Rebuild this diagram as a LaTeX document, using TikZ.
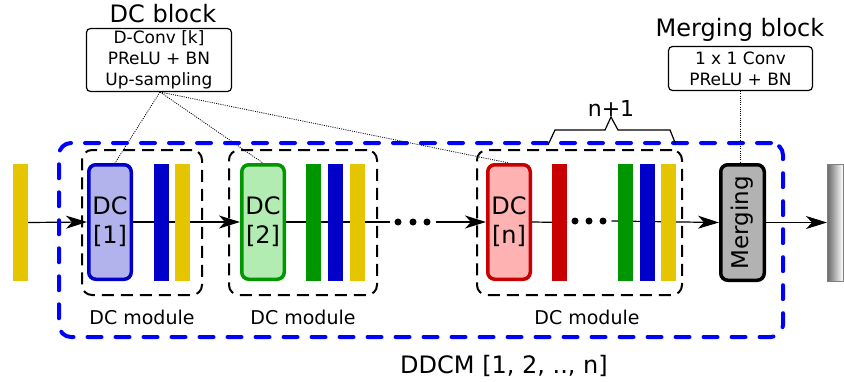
\documentclass[tikz,border=0pt]{standalone}
\usepackage{fontspec}
\setmainfont{DejaVu Sans}
\usetikzlibrary{arrows.meta,calc}
\definecolor{cyel}{RGB}{229,196,0}
\definecolor{cblue}{RGB}{0,0,200}
\definecolor{cgreen}{RGB}{0,150,0}
\definecolor{cred}{RGB}{200,0,0}
\definecolor{lblue}{RGB}{178,178,236}
\definecolor{lgreen}{RGB}{178,236,178}
\definecolor{lred}{RGB}{255,178,178}
\definecolor{lgray}{RGB}{178,178,178}
\definecolor{dblue}{RGB}{0,0,255}
\pgfdeclarelayer{background}
\pgfsetlayers{background,main}
\begin{document}
\begin{tikzpicture}[x=1pt,y=-1pt,
  bar/.style={minimum width=15pt, minimum height=117pt, inner sep=0pt, outer sep=0pt},
  dcbox/.style={draw, rounded corners=7pt, line width=3.5pt, minimum width=42.5pt, minimum height=114.5pt, inner sep=0pt, align=center, font=\fontsize{24}{29}\selectfont},
  module/.style={draw, dash pattern=on 12pt off 7pt, line width=2pt, rounded corners=10pt, inner sep=0pt},
  outerbox/.style={draw=dblue, dash pattern=on 14pt off 14pt, line cap=round, line width=4pt, rounded corners=12pt, inner sep=0pt},
  blockbox/.style={draw, rounded corners=4pt, line width=1.2pt, align=center, font=\fontsize{17}{21}\selectfont, inner sep=0pt},
  title/.style={anchor=base, font=\fontsize{24}{29}\selectfont, inner sep=0pt},
  modlabel/.style={font=\fontsize{19}{23}\selectfont, inner sep=0pt},
  conn/.style={line width=1.2pt},
  arr/.style={conn, -{Stealth[length=21pt,width=13pt,inset=6pt]}},
  dotline/.style={line width=0.8pt, dash pattern=on 1pt off 1.2pt},
  bigdot/.style={circle, fill, minimum size=7pt, inner sep=0pt, outer sep=5pt}
]
\useasboundingbox (0,0) rectangle (844,381);

% outer DDCM box and module boxes
\node[outerbox, minimum width=724pt, minimum height=194pt] (ddcm) at (421,240) {};
\node[module, minimum width=120pt, minimum height=145pt] (mod1) at (142,222.5) {};
\node[module, minimum width=148pt, minimum height=145pt] (mod2) at (303,222.5) {};
\node[module, minimum width=205pt, minimum height=145pt] (modn) at (579.5,222.5) {};

% input bar
\node[bar, fill=cyel] (inbar) at (20.5,222.5) {};

% module 1
\node[dcbox, draw=cblue, fill=lblue] (dc1) at (110,222) {DC\\{[1]}};
\node[bar, fill=cblue] (b11) at (161.5,222.5) {};
\node[bar, fill=cyel] (b12) at (182.5,222.5) {};

% module 2
\node[dcbox, draw=cgreen, fill=lgreen] (dc2) at (263,222) {DC\\{[2]}};
\node[bar, fill=cgreen] (b21) at (313.5,222.5) {};
\node[bar, fill=cblue] (b22) at (335.5,222.5) {};
\node[bar, fill=cyel] (b23) at (357.5,222.5) {};

% dots between modules
\node[bigdot] (d1) at (398,222) {};
\node[bigdot] (d2) at (413,222) {};
\node[bigdot] (d3) at (427,222) {};

% module n
\node[dcbox, draw=cred, fill=lred] (dcn) at (509,222) {DC\\{[n]}};
\node[bar, fill=cred] (bn1) at (559.5,222.5) {};
\node[bigdot] (e1) at (575,221) {};
\node[bigdot] (e2) at (589,221) {};
\node[bigdot] (e3) at (603,221) {};
\node[bar, fill=cgreen] (bn2) at (625.5,222.5) {};
\node[bar, fill=cblue] (bn3) at (647.5,222.5) {};
\node[bar, fill=cyel] (bn4) at (668.5,222.5) {};

% merging
\node[draw, fill=lgray, line width=3.5pt, rounded corners=7pt, minimum width=43.5pt, minimum height=115.5pt, inner sep=0pt] (merge) at (742.5,222.5) {};
\node[rotate=90, font=\fontsize{23}{28}\selectfont, inner sep=0pt] (mergetxt) at (merge.center) {Merging};

% output bar
\node[bar, minimum width=16pt, left color=black!60, right color=white, draw=gray, line width=0.5pt] (outbar) at (835,222.5) {};

% labels
\node[modlabel] (l1) at (142,317) {DC module};
\node[modlabel] (l2) at (303,317) {DC module};
\node[modlabel] (l3) at (587,317) {DC module};
\node[font=\fontsize{24}{29}\selectfont, inner sep=0pt] (ddcmlabel) at (504,366) {DDCM [1, 2, .., n]};

% DC block
\node[title] (dct) at (163,22) {DC block};
\node[blockbox, minimum width=145pt, minimum height=63pt] (dcb) at (159,60) {D-Conv [k]\\PReLU + BN\\Up-sampling};
\coordinate (dcbs) at (160,92);

% Merging block
\node[title] (mbt) at (740,36) {Merging block};
\node[blockbox, minimum width=144pt, minimum height=44pt] (mb) at (740.5,68.5) {1 x 1 Conv\\PReLU + BN};

% n+1 brace
\node[anchor=base, font=\fontsize{22}{26}\selectfont, inner sep=0pt] (np1) at (611,116) {n+1};
\draw[line width=1.2pt] (548,145) -- (555,130) -- (605,130) -- (611,117) -- (618,130) -- (670,130) -- (676,145);

% connectors
\begin{pgfonlayer}{background}
\draw[arr] (inbar.east) -- (dc1.west);
\draw[arr] (dc1.east) -- (dc2.west);
\draw[conn] (dc2.east) -- (d1.west);
\draw[arr] (d3.east) -- (dcn.west);
\draw[conn] (dcn.east) -- (bn1.east);
\draw[arr] (e3.east) -- (merge.west);
\draw[arr] (merge.east) -- (outbar.west);
\draw[dotline] (dcbs) -- ([xshift=5pt]dc1.north);
\draw[dotline] (dcbs) -- (dc2.north);
\draw[dotline] (dcbs) -- (dcn.north);
\draw[dotline] (mb.south) -- (mb.south |- merge.north);
\end{pgfonlayer}
\end{tikzpicture}
\end{document}
